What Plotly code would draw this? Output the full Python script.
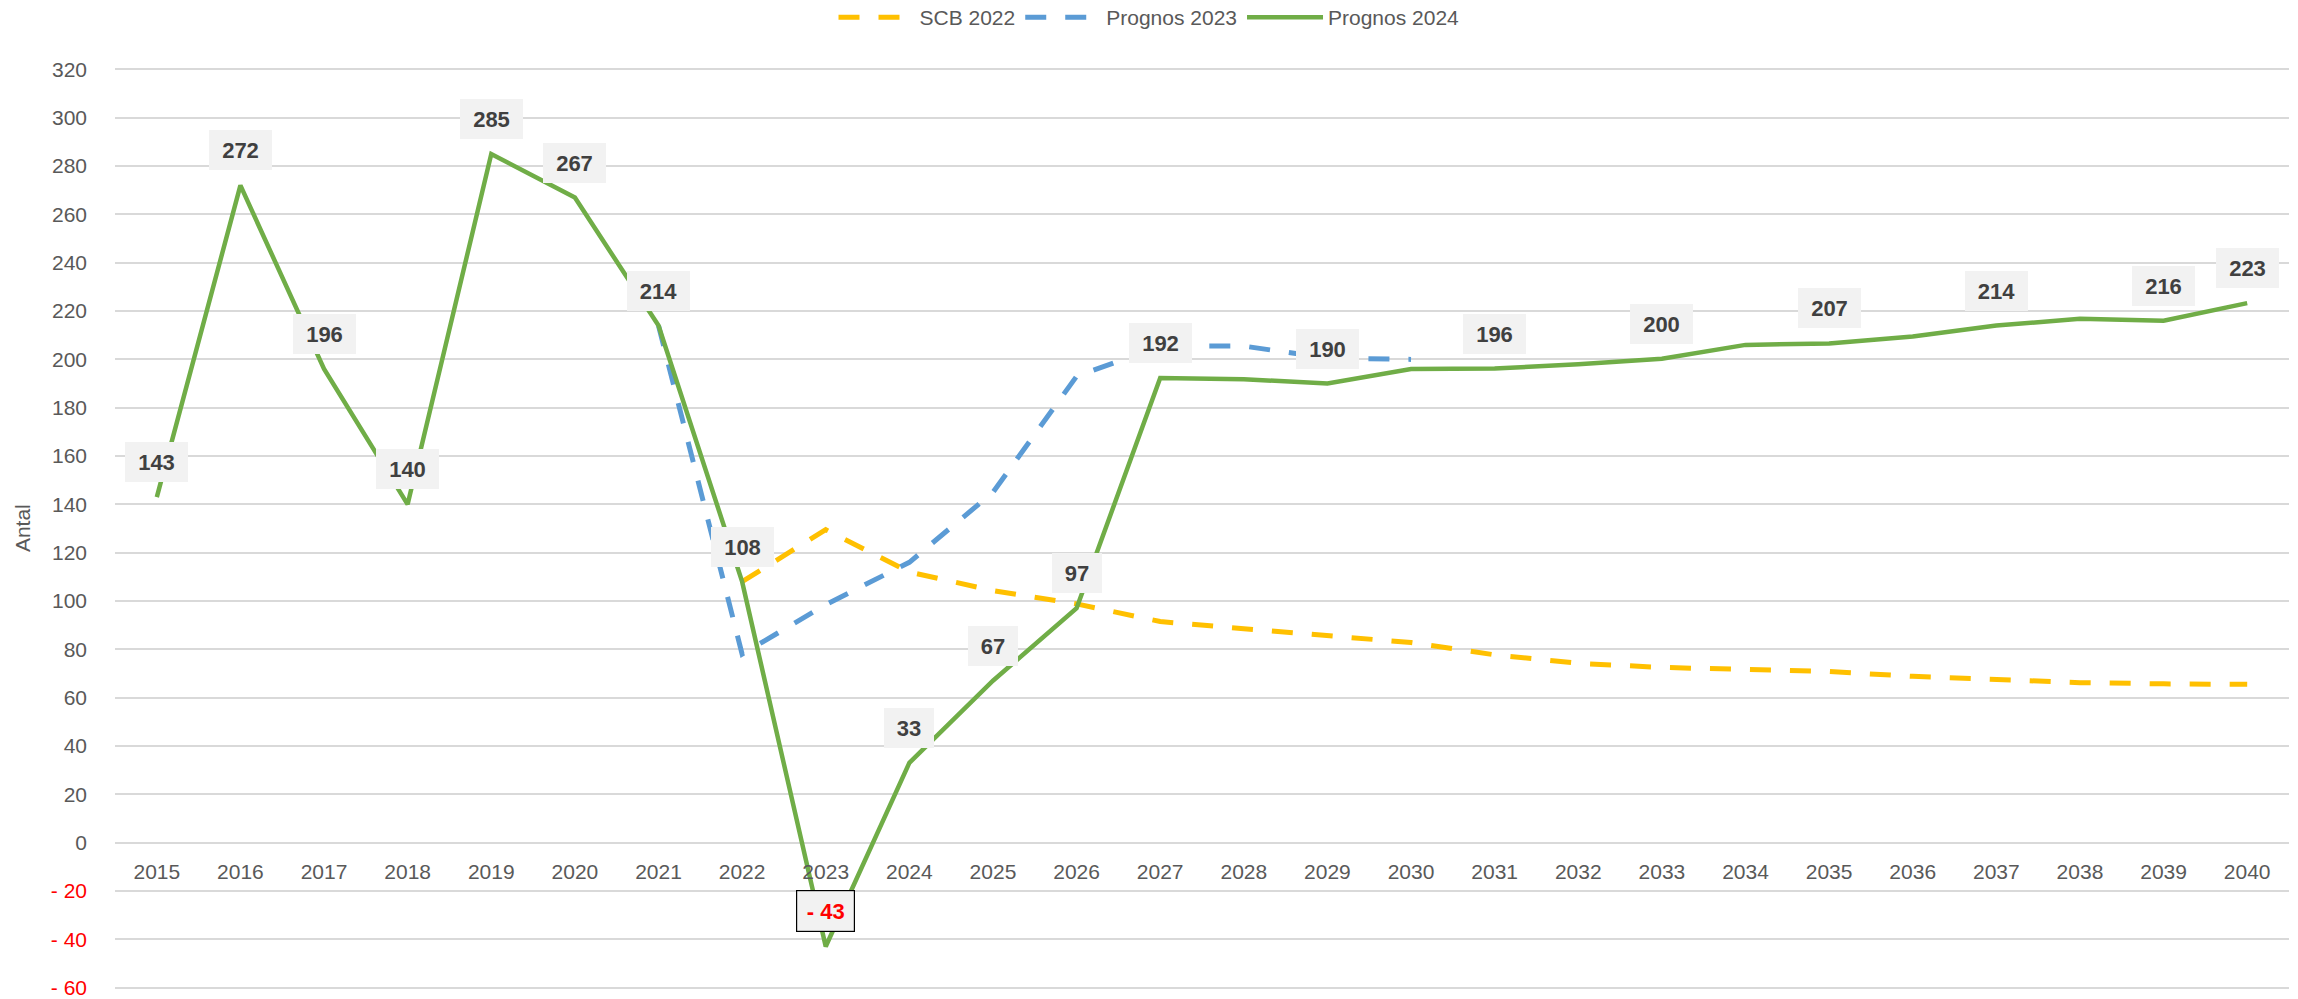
import plotly.graph_objects as go

# årtal på x-axeln
years = list(range(2015, 2041))

# SCB 2022 (gul, streckad) - börjar 2022
scb_2022 = [None] * 7 + [108, 129.5, 112, 104.3, 98.8, 91.5, 88.5, 85.5, 82.8,
                         77.7, 74.2, 72.5, 71.8, 70.8, 68.8, 67.3, 66.2, 65.7, 65.5]

# Prognos 2023 (blå, streckad) - 2021 till 2030
prognos_2023 = [None] * 6 + [214, 78, 98.5, 116, 145, 193, 205.5, 205.5, 200.5, 200] + [None] * 10

# Prognos 2024 (grön, heldragen)
prognos_2024 = [143, 272, 196, 140, 285, 267, 214, 108, -43, 33, 67, 97, 192.3,
                191.8, 190, 196, 196.2, 198, 200.3, 206, 206.6, 209.5, 214, 216.8, 216, 223.3]

# etiketter som visas på den gröna linjen
etikett_ar = [2015, 2016, 2017, 2018, 2019, 2020, 2021, 2022, 2023, 2024, 2025, 2026,
              2027, 2029, 2031, 2033, 2035, 2037, 2039, 2040]

y_ticks = list(range(-60, 321, 20))

GRA_TEXT = '#595959'
FONT = 'Liberation Sans, Arial, sans-serif'


def formatera(v):
    v = int(round(v))
    return f'- {abs(v)}' if v < 0 else str(v)


def tick_text(v):
    if v < 0:
        return f"<span style='color:#FF0000'>- {abs(v)}</span>"
    return str(v)


fig = go.Figure()

fig.add_trace(go.Scatter(x=years, y=scb_2022, name='SCB 2022', mode='lines',
                         line=dict(color='#FFC000', width=5, dash='21px,19px')))
fig.add_trace(go.Scatter(x=years, y=prognos_2023, name='Prognos 2023', mode='lines',
                         line=dict(color='#5B9BD5', width=5, dash='21px,19px')))
fig.add_trace(go.Scatter(x=years, y=prognos_2024, name='Prognos 2024', mode='lines',
                         line=dict(color='#70AD47', width=4.5)))

for ar in etikett_ar:
    v = prognos_2024[years.index(ar)]
    txt = formatera(v)
    negativ = v < 0
    fig.add_annotation(
        x=ar, y=v, text=f'<b>{txt}</b>', showarrow=False, yshift=35,
        font=dict(family=FONT, size=22, color='#FF0000' if negativ else '#404040'),
        bgcolor='#F2F2F2',
        bordercolor='#000000' if negativ else 'rgba(0,0,0,0)',
        borderwidth=1.2 if negativ else 0,
        borderpad=5,
        width=(47 if negativ else 13 * len(txt) + 14),
        height=30,
    )

# y-axelns titel
fig.add_annotation(x=-0.0425, y=0.5, xref='paper', yref='paper', text='Antal',
                   textangle=-90, showarrow=False, xanchor='center', yanchor='middle',
                   font=dict(family=FONT, size=21, color=GRA_TEXT))

fig.update_layout(
    width=2298, height=999,
    margin=dict(l=115, r=9, t=68, b=10, autoexpand=False),
    paper_bgcolor='white', plot_bgcolor='white',
    font=dict(family=FONT, size=21, color=GRA_TEXT),
    showlegend=True,
    legend=dict(orientation='h', x=0.5, xanchor='center', xref='container',
                y=0.9825, yanchor='middle', yref='container',
                font=dict(family=FONT, size=21, color=GRA_TEXT), itemwidth=76,
                traceorder='normal'),
    xaxis=dict(range=[2014.5, 2040.5], tickvals=years, ticktext=[str(a) for a in years],
               showgrid=False, zeroline=False, showline=False, ticks='', automargin=False,
               anchor='free', position=60.6 / 381.2, ticklabelstandoff=14,
               tickfont=dict(family=FONT, size=21, color=GRA_TEXT)),
    yaxis=dict(range=[-60.6, 320.6], tickvals=y_ticks, ticktext=[tick_text(v) for v in y_ticks],
               showgrid=True, gridcolor='#D9D9D9', gridwidth=1.5, zeroline=False,
               showline=False, ticks='', ticklabelstandoff=27, automargin=False,
               tickfont=dict(family=FONT, size=21, color=GRA_TEXT)),
)

# sidans standardmarginal (8px) tas bort så att diagrammet fyller fönstret
fig.write_html('out.html', config={'displayModeBar': False},
               post_script="document.body.style.margin='0';")
